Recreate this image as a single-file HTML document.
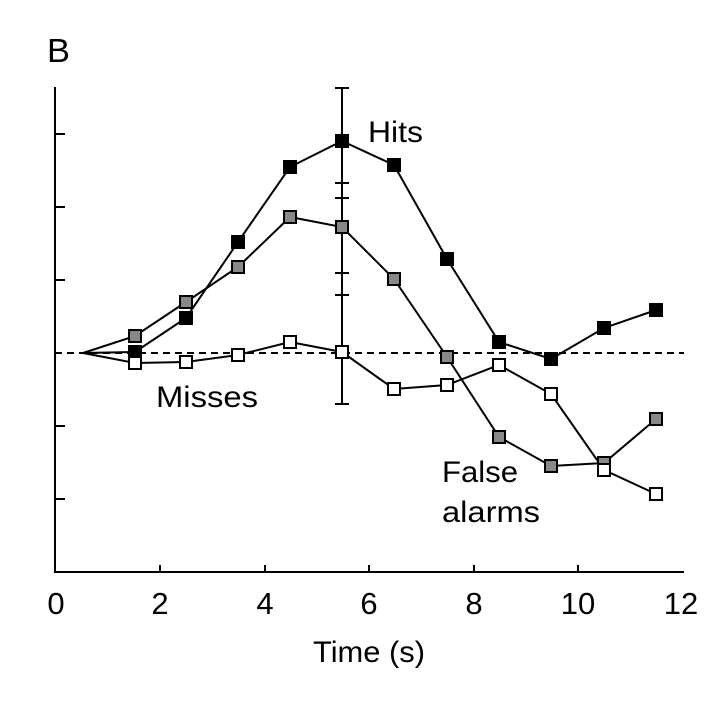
<!DOCTYPE html>
<html><head><style>body{margin:0;background:#fff}</style></head><body>
<svg width="727" height="709" xmlns="http://www.w3.org/2000/svg" font-family="Liberation Sans, Arial, sans-serif">
<rect width="727" height="709" fill="#fff"/>
<text x="47" y="62" font-size="33" textLength="23" lengthAdjust="spacingAndGlyphs">B</text>
<g stroke="#000" stroke-width="2" fill="none">
<line x1="55" y1="87" x2="55" y2="573"/>
<line x1="54" y1="572" x2="684" y2="572"/>
<line x1="55" y1="134" x2="65" y2="134"/><line x1="55" y1="207" x2="65" y2="207"/>
<line x1="55" y1="280" x2="65" y2="280"/><line x1="55" y1="426" x2="65" y2="426"/>
<line x1="55" y1="499" x2="65" y2="499"/>
<line x1="55" y1="353" x2="684" y2="353" stroke-dasharray="7,5"/>
<line x1="160" y1="565" x2="160" y2="572"/>
<line x1="265" y1="565" x2="265" y2="572"/><line x1="369" y1="565" x2="369" y2="572"/>
<line x1="474" y1="565" x2="474" y2="572"/><line x1="578" y1="565" x2="578" y2="572"/>
<line x1="342" y1="87" x2="342" y2="405"/>
<line x1="335" y1="88" x2="349" y2="88"/><line x1="335" y1="404" x2="349" y2="404"/>
<line x1="335" y1="183" x2="349" y2="183"/><line x1="335" y1="198" x2="349" y2="198"/>
<line x1="335" y1="273" x2="349" y2="273"/><line x1="335" y1="295" x2="349" y2="295"/>
<polyline points="83,353 135,352 186,318 238,242 290,167 342,141 394,165 447,259 499,342 551,359 604,328 656,310"/>
<polyline points="83,353 135,336 186,302 238,267 290,217 342,227 394,279 447,357 499,437 551,466 604,463 656,419"/>
<polyline points="83,353 135,363 186,362 238,355 290,342 342,352 394,389 447,385 499,365 551,394 604,470 656,494"/>
</g>
<g stroke="#000" stroke-width="2" fill="#000">
<rect x="129" y="346" width="12" height="12"/><rect x="180" y="312" width="12" height="12"/><rect x="232" y="236" width="12" height="12"/><rect x="284" y="161" width="12" height="12"/><rect x="336" y="135" width="12" height="12"/><rect x="388" y="159" width="12" height="12"/><rect x="441" y="253" width="12" height="12"/><rect x="493" y="336" width="12" height="12"/><rect x="545" y="353" width="12" height="12"/><rect x="598" y="322" width="12" height="12"/><rect x="650" y="304" width="12" height="12"/>
</g>
<g stroke="#000" stroke-width="2" fill="#888">
<rect x="129" y="330" width="12" height="12"/><rect x="180" y="296" width="12" height="12"/><rect x="232" y="261" width="12" height="12"/><rect x="284" y="211" width="12" height="12"/><rect x="336" y="221" width="12" height="12"/><rect x="388" y="273" width="12" height="12"/><rect x="441" y="351" width="12" height="12"/><rect x="493" y="431" width="12" height="12"/><rect x="545" y="460" width="12" height="12"/><rect x="598" y="457" width="12" height="12"/><rect x="650" y="413" width="12" height="12"/>
</g>
<g stroke="#000" stroke-width="2" fill="#fff">
<rect x="129" y="357" width="12" height="12"/><rect x="180" y="356" width="12" height="12"/><rect x="232" y="349" width="12" height="12"/><rect x="284" y="336" width="12" height="12"/><rect x="336" y="346" width="12" height="12"/><rect x="388" y="383" width="12" height="12"/><rect x="441" y="379" width="12" height="12"/><rect x="493" y="359" width="12" height="12"/><rect x="545" y="388" width="12" height="12"/><rect x="598" y="464" width="12" height="12"/><rect x="650" y="488" width="12" height="12"/>
</g>
<g font-size="30" fill="#000" lengthAdjust="spacingAndGlyphs">
<text x="368" y="142" textLength="55" lengthAdjust="spacingAndGlyphs">Hits</text>
<text x="156" y="407" textLength="102" lengthAdjust="spacingAndGlyphs">Misses</text>
<text x="442" y="482" textLength="76" lengthAdjust="spacingAndGlyphs">False</text>
<text x="442" y="522" textLength="98" lengthAdjust="spacingAndGlyphs">alarms</text>
</g>
<g font-size="31" text-anchor="middle">
<text x="56" y="614">0</text><text x="160" y="614">2</text><text x="265" y="614">4</text><text x="369" y="614">6</text><text x="474" y="614">8</text><text x="578" y="614">10</text><text x="681" y="614">12</text>
<text x="369" y="662" font-size="30" textLength="112" lengthAdjust="spacingAndGlyphs">Time (s)</text>
</g>
</svg>
</body></html>
